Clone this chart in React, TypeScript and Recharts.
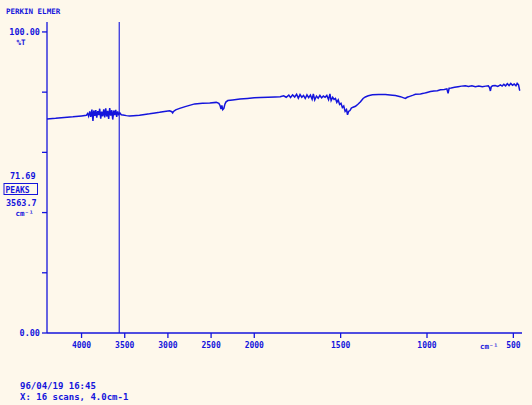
import React from 'react';
import { LineChart, Line, XAxis, YAxis, ReferenceLine } from 'recharts';

const BLUE = '#1414dc';
const PAPER = '#fef8eb';
const FONT = '"DejaVu Sans Mono", monospace';

// IR spectrum, wavenumber (cm-1) vs %T
const WAVENUMBERS = [
  4400, 4300, 4200, 4100, 4000, 3945, 3930, 3918, 3905, 3893, 3880, 3868, 3858, 3846, 3835,
  3824, 3812, 3800, 3790, 3778, 3767, 3755, 3743, 3732, 3720, 3709, 3697, 3686, 3674, 3662,
  3650, 3639, 3627, 3616, 3604, 3593, 3581, 3570, 3556, 3540, 3520, 3480, 3445, 3400, 3329,
  3270, 3213, 3150, 3097, 3040, 2980, 2955, 2945, 2935, 2910, 2864, 2800, 2750, 2690, 2600,
  2515, 2440, 2410, 2395, 2385, 2375, 2365, 2352, 2340, 2329, 2306, 2250, 2166, 2080, 2000,
  1965, 1920, 1880, 1850, 1830, 1815, 1800, 1790, 1778, 1766, 1755, 1745, 1735, 1725, 1715,
  1705, 1695, 1685, 1675, 1665, 1658, 1650, 1640, 1630, 1620, 1610, 1600, 1590, 1580, 1570,
  1562, 1555, 1546, 1538, 1530, 1522, 1514, 1506, 1498, 1490, 1482, 1474, 1466, 1460, 1454,
  1446, 1438, 1428, 1414, 1400, 1385, 1370, 1357, 1340, 1316, 1280, 1241, 1200, 1183, 1154,
  1135, 1125, 1115, 1100, 1080, 1067, 1038, 1020, 1000, 980, 960, 940, 922, 900, 885,
  878, 872, 860, 840, 820, 800, 778, 760, 740, 720, 700, 680, 660, 645, 638,
  633, 628, 620, 605, 590, 575, 565, 555, 545, 535, 525, 515, 505, 495, 485,
  478, 470, 464, 462,
];

const TRANSMITTANCE = [
  71.1, 71.3, 71.6, 71.8, 72.1, 72.3, 72.9, 72.0, 73.6, 71.8, 74.2, 70.4, 73.9, 72.1, 74.0,
  71.5, 73.7, 72.4, 74.5, 71.2, 73.5, 72.0, 74.3, 71.6, 74.6, 71.9, 73.8, 71.1, 74.7, 72.2,
  74.0, 70.9, 73.9, 72.4, 74.1, 71.8, 73.6, 72.6, 73.1, 72.5, 72.4, 72.2, 72.1, 72.2, 72.3,
  72.6, 72.8, 73.1, 73.3, 73.6, 73.8, 73.5, 73.1, 73.6, 74.1, 74.6, 75.2, 75.6, 76.1, 76.3,
  76.4, 76.6, 76.3, 75.5, 74.4, 75.6, 74.2, 74.6, 76.0, 76.7, 77.2, 77.4, 77.7, 77.9, 78.1,
  78.2, 78.3, 78.4, 78.5, 78.8, 78.3, 79.0, 78.2, 79.1, 78.4, 79.3, 78.0, 79.2, 78.3, 78.9,
  77.9, 79.1, 78.2, 79.0, 77.6, 79.4, 77.4, 78.7, 78.0, 78.9, 78.1, 78.7, 78.3, 78.9, 77.5,
  79.4, 77.2, 78.3, 77.6, 77.9, 76.6, 77.4, 75.9, 76.3, 74.9, 75.4, 73.6, 74.2, 72.5, 73.6,
  73.9, 74.7, 75.0, 75.3, 76.0, 76.8, 77.9, 78.4, 78.8, 79.1, 79.2, 79.2, 79.0, 78.9, 78.5,
  78.1, 77.9, 78.3, 78.6, 79.0, 79.3, 79.4, 79.6, 79.9, 80.2, 80.4, 80.5, 80.8, 80.9, 81.1,
  79.6, 81.3, 81.4, 81.6, 81.8, 82.0, 82.1, 81.9, 82.1, 81.8, 82.0, 81.8, 82.0, 82.1, 81.5,
  80.4, 81.8, 82.1, 82.2, 81.9, 82.4, 82.0, 82.6, 82.1, 82.8, 82.2, 82.9, 82.3, 82.7, 82.1,
  82.9, 82.4, 80.7, 80.5,
];

const X_TICKS = [4000, 3500, 3000, 2500, 2000, 1500, 1000, 500];
const Y_TICKS = [0, 20, 40, 60, 80, 100];
const CURSOR = 3563.7;

// instrument abscissa: scale doubles below 2000 cm-1
const toAxis = (w: number) => (w >= 2000 ? 4400 - w : 2400 + (2000 - w) * 2);

const data = WAVENUMBERS.map((w, i) => ({ u: toAxis(w), t: TRANSMITTANCE[i] }));
const tickLabels = new Map(X_TICKS.map((w) => [toAxis(w), String(w)]));

const XTick = ({ x, y, payload }: any) => (
  <text x={x} y={y + 8} textAnchor="middle" fill={BLUE} fontSize={8} fontWeight="bold" fontFamily={FONT}>
    {tickLabels.get(payload.value)}
  </text>
);

const YTick = ({ x, y, payload }: any) => {
  if (payload.value === 100) {
    return (
      <g fill={BLUE} fontFamily={FONT} fontWeight="bold" fontSize={8.5}>
        <text x={x} y={y + 3} textAnchor="end">100.00</text>
        <text x={21} y={y + 13} textAnchor="middle" fontSize={7.5}>%T</text>
      </g>
    );
  }
  if (payload.value === 0) {
    return (
      <text x={x} y={y + 3} textAnchor="end" fill={BLUE} fontFamily={FONT} fontWeight="bold" fontSize={8.5}>
        0.00
      </text>
    );
  }
  return <g />;
};

export default function App() {
  return (
    <div style={{ position: 'absolute', left: 0, top: 0, width: 532, height: 405, background: PAPER }}>
      <LineChart width={532} height={405} data={data} margin={{ top: 22, right: 10, bottom: 0, left: 0 }}>
        <XAxis
          type="number"
          dataKey="u"
          domain={[0, 5500]}
          ticks={X_TICKS.map(toAxis)}
          allowDataOverflow
          height={72}
          tickSize={5}
          tick={<XTick />}
          axisLine={{ stroke: BLUE, strokeWidth: 1.3 }}
          tickLine={{ stroke: BLUE, strokeWidth: 1.3 }}
        />
        <YAxis
          type="number"
          domain={[0, 103.3]}
          ticks={Y_TICKS}
          allowDataOverflow
          width={47}
          tickSize={5}
          tick={<YTick />}
          axisLine={{ stroke: BLUE, strokeWidth: 1.3 }}
          tickLine={{ stroke: BLUE, strokeWidth: 1.3 }}
        />
        <ReferenceLine x={toAxis(CURSOR)} stroke={BLUE} strokeWidth={1.1} />
        <Line type="linear" dataKey="t" stroke={BLUE} strokeWidth={1.5} dot={false} isAnimationActive={false} />
      </LineChart>
      <svg
        width={532}
        height={405}
        style={{ position: 'absolute', left: 0, top: 0, pointerEvents: 'none' }}
        fontFamily={FONT}
        fontWeight="bold"
        fill={BLUE}
      >
        <text x={6} y={13.5} fontSize={7.5}>PERKIN ELMER</text>
        <text x={10} y={179} fontSize={8.5}>71.69</text>
        <rect x={4} y={183.5} width={33.5} height={11} fill="none" stroke={BLUE} strokeWidth={1} />
        <text x={5.5} y={192.5} fontSize={8}>PEAKS</text>
        <text x={6} y={206} fontSize={8.5}>3563.7</text>
        <text x={15.5} y={215.5} fontSize={7.5}>cm⁻¹</text>
        <text x={480} y={349} fontSize={7.5}>cm⁻¹</text>
        <text x={20} y={388.5} fontSize={9}>96/04/19 16:45</text>
        <text x={20} y={399.5} fontSize={9}>X: 16 scans, 4.0cm-1</text>
      </svg>
    </div>
  );
}
